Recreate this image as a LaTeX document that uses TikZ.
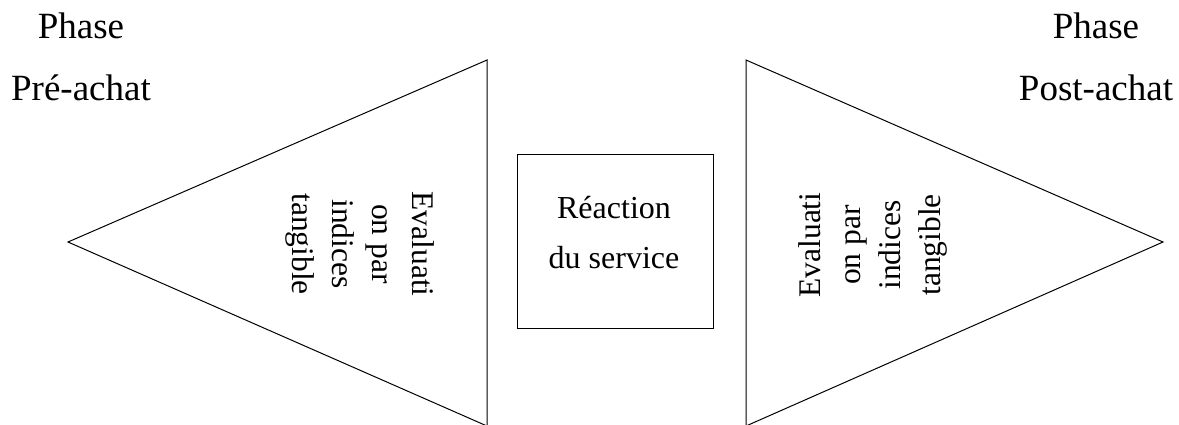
\documentclass[tikz,border=0pt]{standalone}
\usepackage{fontspec}
\setmainfont{Liberation Serif}
\begin{document}
\begin{tikzpicture}[x=1pt,y=-1pt,
  edge/.style={line width=1pt,line join=miter,black},
  phase/.style={font=\fontsize{37}{37}\selectfont,anchor=base,inner sep=0pt},
  boxtext/.style={font=\fontsize{32}{32}\selectfont,anchor=base,inner sep=0pt},
  tritext/.style={font=\fontsize{31.5}{40}\selectfont,align=center,inner sep=0pt},
  frame/.style={draw,line width=1pt,minimum width=196pt,minimum height=174pt,inner sep=0pt}]
  \useasboundingbox (0,0) rectangle (1179,424);
  \fill[white] (0,0) rectangle (1179,424);
  \clip (0,0) rectangle (1179,424);

  % left triangle (pre-purchase), its lower corner runs past the page edge
  \coordinate (la) at (68,242);
  \coordinate (lt) at (487,60);
  \coordinate (lb) at (487,426);
  \draw[edge] (la) -- (lt) -- (lb) -- cycle;

  % right triangle (post-purchase)
  \coordinate (ra) at (1163,242);
  \coordinate (rt) at (746,60);
  \coordinate (rb) at (746,426);
  \draw[edge] (ra) -- (rt) -- (rb) -- cycle;

  % central box
  \node[frame] (box) at (615,241) {};
  \node[boxtext] (react) at (614,218) {Réaction};
  \node[boxtext] (serv) at (614,268) {du service};

  % rotated labels inside the triangles
  \node[tritext,rotate=-90] (lefttxt) at (360,244) {Evaluati\\on par\\indices\\tangible};
  \node[tritext,rotate=90] (righttxt) at (873,245) {Evaluati\\on par\\indices\\tangible};

  % phase headings
  \node[phase] (lphase) at (81,38) {Phase};
  \node[phase] (lpre) at (81,100) {Pré-achat};
  \node[phase] (rphase) at (1096,38) {Phase};
  \node[phase] (rpost) at (1096,100) {Post-achat};
\end{tikzpicture}
\end{document}
